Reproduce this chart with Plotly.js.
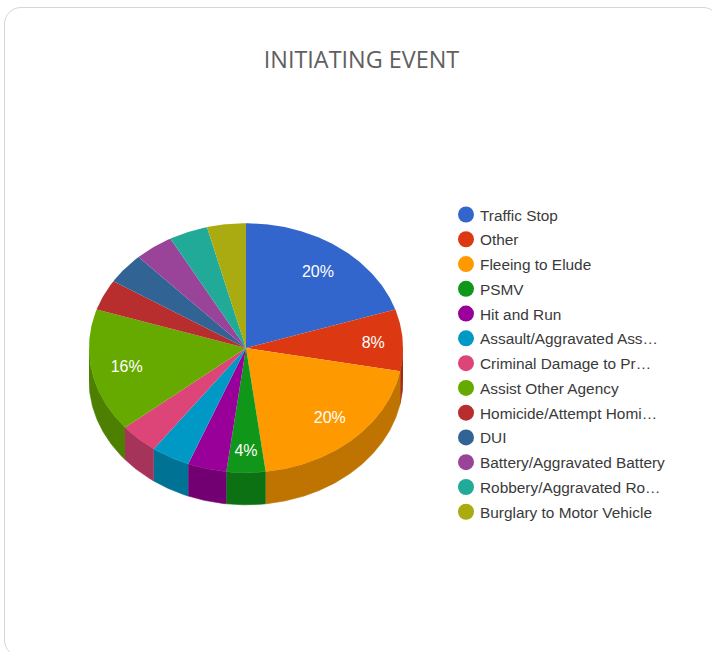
<!DOCTYPE html>
<html>
<head>
<meta charset="utf-8">
<script src="https://cdn.plot.ly/plotly-3.0.1.min.js"></script>
<style>
html,body{margin:0;padding:0;width:712px;height:652px;overflow:hidden;background:#fff}
#card{position:absolute;left:4px;top:7px;width:716px;height:650px;box-sizing:border-box;border:1.5px solid #d6d6d6;border-radius:17px}
#chart{position:absolute;left:0;top:0;width:712px;height:652px}
</style>
</head>
<body>
<div id="card"></div>
<div id="chart"></div>
<script>
const categories = ["Traffic Stop","Other","Fleeing to Elude","PSMV","Hit and Run","Assault/Aggravated Ass…","Criminal Damage to Pr…","Assist Other Agency","Homicide/Attempt Homi…","DUI","Battery/Aggravated Battery","Robbery/Aggravated Ro…","Burglary to Motor Vehicle"];
const values = [20,8,20,4,4,4,4,16,4,4,4,4,4];
const sliceLabels = ["20%","8%","20%","4%","","","","16%","","","","",""];
const colors = ["#3366cc","#dc3912","#ff9900","#109618","#990099","#0099c6","#dd4477","#66aa00","#b82e2e","#316395","#994499","#22aa99","#aaaa11"];
const sideColors = ["#264d99","#a52b0e","#bf7300","#0c7112","#730073","#007394","#a63359","#4d8000","#8a2222","#254a70","#733373","#1a8073","#80800d"];

// geometry of the tilted pie, in units of the horizontal radius
const PX_PER_UNIT = 157, TILT = 0.793, DEPTH = 0.204, LABEL_R = 0.78;
const labelNudgePx = {0:[0,3.5],1:[5,2],2:[0,0],3:[0,7],7:[1,2]};
const total = values.reduce((a,b)=>a+b,0);
const px = a => Math.sin(a), py = a => Math.cos(a)*TILT;
function arc(a0,a1,dy){
  const n = Math.max(2,Math.ceil((a1-a0)/0.01)), xs=[], ys=[];
  for(let i=0;i<=n;i++){const a=a0+(a1-a0)*i/n; xs.push(px(a)); ys.push(py(a)-dy);}
  return [xs,ys];
}
const walls=[], tops=[], keys=[];
let cum=0; const tx=[],ty=[];
values.forEach((v,i)=>{
  const a0=cum/total*2*Math.PI; cum+=v; const a1=cum/total*2*Math.PI;
  const s0=Math.max(a0,Math.PI/2), s1=Math.min(a1,3*Math.PI/2);
  if(s1>s0){
    const [x1,y1]=arc(s0,s1,0),[x2,y2]=arc(s0,s1,DEPTH);
    walls.push({type:'scatter',mode:'lines',x:x1.concat(x2.reverse()),y:y1.concat(y2.reverse()),fill:'toself',fillcolor:sideColors[i],line:{width:0.6,color:sideColors[i]},showlegend:false,hoverinfo:'skip'});
  }
  const [x,y]=arc(a0,a1,0);
  tops.push({type:'scatter',mode:'lines',x:[0].concat(x,[0]),y:[0].concat(y,[0]),fill:'toself',fillcolor:colors[i],line:{width:0},showlegend:false,name:categories[i],text:values[i]+'%',hoverinfo:'name+text'});
  const m=(a0+a1)/2, nudge=labelNudgePx[i]||[0,0];
  tx.push(px(m)*LABEL_R+nudge[0]/PX_PER_UNIT); ty.push(py(m)*LABEL_R-nudge[1]/PX_PER_UNIT);
  keys.push({type:'scatter',mode:'markers',x:[null],y:[null],name:categories[i],legendgroup:'g'+i,showlegend:true,marker:{color:colors[i],size:16,symbol:'circle'},hoverinfo:'skip'});
});
const labelsTrace={type:'scatter',mode:'text',x:tx,y:ty,text:sliceLabels,textposition:'middle center',textfont:{family:'Liberation Sans, Arial, sans-serif',size:16,color:'#ffffff'},showlegend:false,hoverinfo:'skip',cliponaxis:false};

// plot area is larger than the pie so the legend fits inside its height limit
const L=89,W=314,T=100,B=40,PIE_TOP=223,PIE_BOTTOM=505;
const yTop=TILT+(PIE_TOP-T)/PX_PER_UNIT, yBottom=-TILT-DEPTH-(652-B-PIE_BOTTOM)/PX_PER_UNIT;
const H=652-T-B;
const layout={
  width:712,height:652,autosize:false,
  margin:{l:L,r:712-L-W,t:T,b:B,pad:0},
  paper_bgcolor:'rgba(0,0,0,0)',plot_bgcolor:'rgba(0,0,0,0)',
  title:{text:'INITIATING EVENT',font:{family:'Open Sans, sans-serif',size:23.4,color:'#5f5f5f'},x:361.5/712,xanchor:'center',xref:'container',y:1-60/652,yanchor:'middle',yref:'container'},
  xaxis:{range:[-1,1],visible:false,fixedrange:true},
  yaxis:{range:[yBottom,yTop],visible:false,fixedrange:true},
  legend:{x:(440-L)/W,xanchor:'left',y:1-(198-T)/H,yanchor:'top',traceorder:'grouped',tracegroupgap:1.75,font:{family:'Liberation Sans, Arial, sans-serif',size:15.4,color:'#3a3a3a'},bgcolor:'rgba(0,0,0,0)',borderwidth:0,itemclick:false,itemdoubleclick:false},
  showlegend:true
};
Plotly.newPlot('chart',walls.concat(tops,[labelsTrace],keys),layout,{displayModeBar:false,responsive:false}).then(gd=>{
  // the reference has its legend dots closer to the text than Plotly's fixed gap
  gd.querySelectorAll('.legend .legendsymbols').forEach(s=>s.setAttribute('transform','translate(6,0)'));
});
</script>
</body>
</html>
